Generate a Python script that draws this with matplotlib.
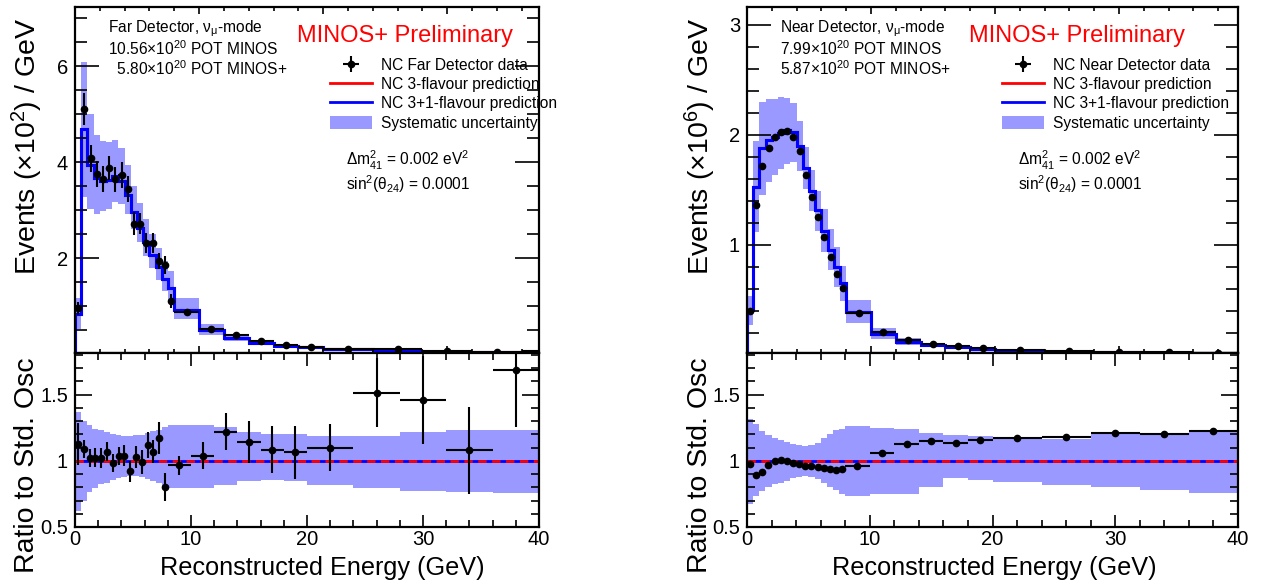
import numpy as np
import matplotlib
matplotlib.use('Agg')
import matplotlib.pyplot as plt
from matplotlib.lines import Line2D
from matplotlib.patches import Patch
from matplotlib.ticker import MultipleLocator, FuncFormatter

plt.rcParams['font.family'] = ['Liberation Sans', 'DejaVu Sans']
plt.rcParams['mathtext.fontset'] = 'custom'
plt.rcParams['mathtext.rm'] = 'Liberation Sans'
plt.rcParams['mathtext.it'] = 'Liberation Sans:italic'
plt.rcParams['mathtext.bf'] = 'Liberation Sans:bold'

# bin edges (GeV), shared by both detectors
edges = [0, 0.5, 1, 1.5, 2, 2.5, 3, 3.5, 4, 4.5, 5, 5.5, 6, 6.5, 7, 7.5, 8,
         10, 12, 14, 16, 18, 20, 24, 28, 32, 36, 40]

# Far detector (x10^2 events / GeV)
far_pred = [0.85, 4.69, 3.95, 3.67, 3.62, 3.63, 3.71, 3.61, 3.32, 2.96, 2.64, 2.35, 2.08, 1.82,
            1.58, 1.38, 0.92, 0.50, 0.336, 0.237, 0.184, 0.150, 0.110, 0.073, 0.055, 0.047, 0.040]
far_data = [0.96, 5.11, 4.09, 3.76, 3.65, 3.88, 3.65, 3.74, 3.45, 2.72, 2.72, 2.33, 2.33, 1.95,
            1.86, 1.11, 0.89, 0.52, 0.41, 0.27, 0.20, 0.16, 0.12, 0.11, 0.08, 0.05, 0.068]
far_err = [0.14, 0.33, 0.28, 0.28, 0.27, 0.25, 0.26, 0.27, 0.27, 0.24, 0.22, 0.21, 0.21, 0.16,
           0.19, 0.145, 0.065, 0.05, 0.047, 0.038, 0.033, 0.03, 0.019, 0.019, 0.018, 0.015, 0.017]
far_ratio = [1.125, 1.09, 1.02, 1.025, 1.02, 1.07, 0.985, 1.035, 1.04, 0.92, 1.03, 0.99, 1.12, 1.07,
             1.175, 0.805, 0.965, 1.04, 1.22, 1.14, 1.085, 1.065, 1.10, 1.515, 1.46, 1.08, 1.685]
far_ratio_err = [0.16, 0.07, 0.07, 0.075, 0.075, 0.07, 0.07, 0.07, 0.08, 0.08, 0.085, 0.09, 0.10, 0.09,
                 0.12, 0.105, 0.07, 0.10, 0.14, 0.16, 0.18, 0.20, 0.175, 0.26, 0.33, 0.33, 0.43]
far_syst_hi = [1.372, 1.298, 1.268, 1.243, 1.23, 1.218, 1.205, 1.193, 1.188, 1.185, 1.193, 1.198, 1.21,
               1.223, 1.235, 1.255, 1.268, 1.268, 1.255, 1.218, 1.205, 1.2, 1.185, 1.185, 1.218, 1.23, 1.235]
far_syst_lo = [0.623, 0.70, 0.768, 0.798, 0.823, 0.835, 0.855, 0.868, 0.88, 0.885, 0.885, 0.875, 0.863,
               0.848, 0.83, 0.81, 0.798, 0.798, 0.818, 0.85, 0.855, 0.848, 0.818, 0.793, 0.775, 0.763, 0.76]

# Near detector (x10^6 events / GeV)
near_pred = [0.41, 1.527, 1.88, 1.953, 1.984, 2.02, 2.044, 2.026, 1.90, 1.70, 1.495, 1.314, 1.129, 0.956,
             0.796, 0.652, 0.394, 0.194, 0.122, 0.087, 0.071, 0.054, 0.040, 0.031, 0.025, 0.022, 0.017]
near_data = [0.40, 1.364, 1.72, 1.885, 1.98, 2.03, 2.04, 1.985, 1.85, 1.64, 1.44, 1.255, 1.07, 0.894,
             0.74, 0.61, 0.379, 0.206, 0.137, 0.10, 0.08, 0.062, 0.047, 0.036, 0.030, 0.026, 0.021]
near_err = [0.002, 0.006, 0.007, 0.007, 0.007, 0.007, 0.007, 0.007, 0.007, 0.006, 0.006, 0.005, 0.005, 0.004,
            0.004, 0.003, 0.002, 0.001, 0.001, 0.001, 0.001, 0.001, 0.001, 0.001, 0.001, 0.001, 0.001]
near_ratio = [0.975, 0.893, 0.915, 0.965, 0.998, 1.005, 0.998, 0.98, 0.973, 0.963, 0.963, 0.955, 0.948, 0.935,
              0.93, 0.935, 0.963, 1.06, 1.125, 1.15, 1.133, 1.158, 1.173, 1.18, 1.213, 1.203, 1.223]
near_ratio_err = [0.005, 0.004, 0.004, 0.004, 0.004, 0.004, 0.004, 0.004, 0.004, 0.004, 0.004, 0.004, 0.004,
                  0.004, 0.005, 0.005, 0.005, 0.005, 0.006, 0.006, 0.006, 0.007, 0.007, 0.008, 0.009, 0.01, 0.012]
near_syst_hi = [1.318, 1.275, 1.225, 1.193, 1.175, 1.16, 1.143, 1.13, 1.118, 1.113, 1.123, 1.135, 1.175,
                1.2, 1.23, 1.243, 1.26, 1.248, 1.243, 1.21, 1.193, 1.185, 1.175, 1.168, 1.205, 1.205, 1.23]
near_syst_lo = [0.675, 0.735, 0.775, 0.805, 0.823, 0.835, 0.85, 0.868, 0.88, 0.885, 0.875, 0.86, 0.83,
                0.805, 0.78, 0.75, 0.735, 0.75, 0.75, 0.805, 0.868, 0.855, 0.843, 0.818, 0.805, 0.78, 0.76]

W, H = 1263, 585
BAND = '#9999ff'
TXT = 11.2


def fx(x):
    return x / W


def fy(y):
    return 1 - y / H


def style_axis(ax, ymajor, yminor, ylen, ypad):
    ax.tick_params(which='both', direction='in', top=True, right=True, labelsize=14.5, width=1.2)
    ax.tick_params(axis='y', which='major', length=ylen, pad=ypad)
    ax.tick_params(axis='y', which='minor', length=ylen * 0.5)
    ax.tick_params(axis='x', which='major', length=9, pad=2)
    ax.tick_params(axis='x', which='minor', length=5)
    ax.xaxis.set_major_locator(MultipleLocator(10))
    ax.xaxis.set_minor_locator(MultipleLocator(2))
    ax.yaxis.set_major_locator(MultipleLocator(ymajor))
    ax.yaxis.set_minor_locator(MultipleLocator(yminor))
    ax.yaxis.set_major_formatter(FuncFormatter(lambda v, p: '%g' % v))
    for s in ax.spines.values():
        s.set_linewidth(1.6)


def panel(x0, x1, top_xmax, ylim, ymajor, yminor, pred, data, err, ratio, ratio_err,
          hi, lo, det, pot1, pot2, data_label, ylab, ylab_x):
    e = np.array(edges)
    cen = 0.5 * (e[1:] + e[:-1])
    hw = 0.5 * (e[1:] - e[:-1])
    pred = np.array(pred)

    ax = fig.add_axes([fx(x0), fy(353), fx(x1 - x0), (353 - 6.7) / H])
    ax.stairs(pred * np.array(hi), e, baseline=pred * np.array(lo), fill=True, color=BAND, lw=0)
    ax.stairs(pred, e, color='red', lw=2.2)
    ax.stairs(pred, e, color='blue', lw=2.2)
    eb = ax.errorbar(cen, data, xerr=hw, yerr=err, fmt='o', color='black', ms=4.5, lw=1.5, capsize=0)
    ax.set_xlim(0, top_xmax)
    ax.set_ylim(*ylim)
    style_axis(ax, ymajor, yminor, 17, 5)
    ax.tick_params(axis='x', which='major', length=5)
    ax.tick_params(axis='x', which='minor', length=3)
    ax.tick_params(labelbottom=False)

    handles = [eb, Line2D([], [], color='red', lw=2), Line2D([], [], color='blue', lw=2),
               Patch(facecolor=BAND, edgecolor='none')]
    labels = [data_label, 'NC 3-flavour prediction', 'NC 3+1-flavour prediction', 'Systematic uncertainty']
    ax.legend(handles, labels, loc='upper left', bbox_to_anchor=(fx(x0 + 255), fy(58)),
              bbox_transform=fig.transFigure, frameon=False, fontsize=TXT, handlelength=2.7,
              handletextpad=0.6, labelspacing=0.27, borderpad=0, borderaxespad=0, handleheight=0.9)

    fig.text(fx(x0 + 33), fy(32), det, fontsize=TXT, va='baseline')
    fig.text(fx(x0 + 33), fy(55), pot1, fontsize=TXT, va='baseline')
    fig.text(fx(x0 + 33), fy(75), pot2, fontsize=TXT, va='baseline')
    fig.text(fx(x0 + 222), fy(42), 'MINOS+ Preliminary', fontsize=17, color='red', va='baseline')
    fig.text(fx(x0 + 271), fy(166), r'$\mathregular{\Delta m^2_{41}}$ = 0.002 eV$\mathregular{^2}$',
             fontsize=TXT, va='baseline')
    fig.text(fx(x0 + 271), fy(190), r'sin$\mathregular{^2}$(θ$\mathregular{_{24}}$) = 0.0001',
             fontsize=TXT, va='baseline')
    fig.text(fx(ylab_x), fy(18), ylab, rotation=90, ha='center', va='top', fontsize=20.5)

    axr = fig.add_axes([fx(x0), fy(527), fx(x1 - x0), (527 - 353) / H])
    axr.stairs(hi, e, baseline=lo, fill=True, color=BAND, lw=0)
    axr.axhline(1, color='blue', lw=2)
    axr.axhline(1, color='red', lw=2, ls=(0, (3, 2)))
    axr.errorbar(cen, ratio, xerr=hw, yerr=ratio_err, fmt='o', color='black', ms=4.5, lw=1.5, capsize=0)
    axr.set_xlim(0, 40)
    axr.set_ylim(0.5, 1.815)
    style_axis(axr, 0.5, 0.1, 12, 5)
    axr.xaxis.set_major_formatter(FuncFormatter(lambda v, p: '%g' % v))
    fig.text(fx(ylab_x), fy(573), 'Ratio to Std. Osc', rotation=90, ha='center', va='bottom', fontsize=20.5)
    fig.text(fx(x0 + 410), fy(568), 'Reconstructed Energy (GeV)', ha='right', va='center', fontsize=18.2)


fig = plt.figure(figsize=(W / 100, H / 100), dpi=100)

panel(75, 539, 37.4, (0.03, 7.245), 2, 0.5, far_pred, far_data, far_err, far_ratio, far_ratio_err,
      far_syst_hi, far_syst_lo, r'Far Detector, ν$\mathregular{_{μ}}$-mode',
      r'10.56×10$\mathregular{^{20}}$ POT MINOS', r'  5.80×10$\mathregular{^{20}}$ POT MINOS+',
      'NC Far Detector data', r'Events (×10$\mathregular{^{2}}$) / GeV', 27)

panel(747, 1238, 39.6, (0.018, 3.166), 1, 0.2, near_pred, near_data, near_err, near_ratio, near_ratio_err,
      near_syst_hi, near_syst_lo, r'Near Detector, ν$\mathregular{_{μ}}$-mode',
      r'7.99×10$\mathregular{^{20}}$ POT MINOS', r'5.87×10$\mathregular{^{20}}$ POT MINOS+',
      'NC Near Detector data', r'Events (×10$\mathregular{^{6}}$) / GeV', 700)

fig.savefig('out.png', dpi=100)
